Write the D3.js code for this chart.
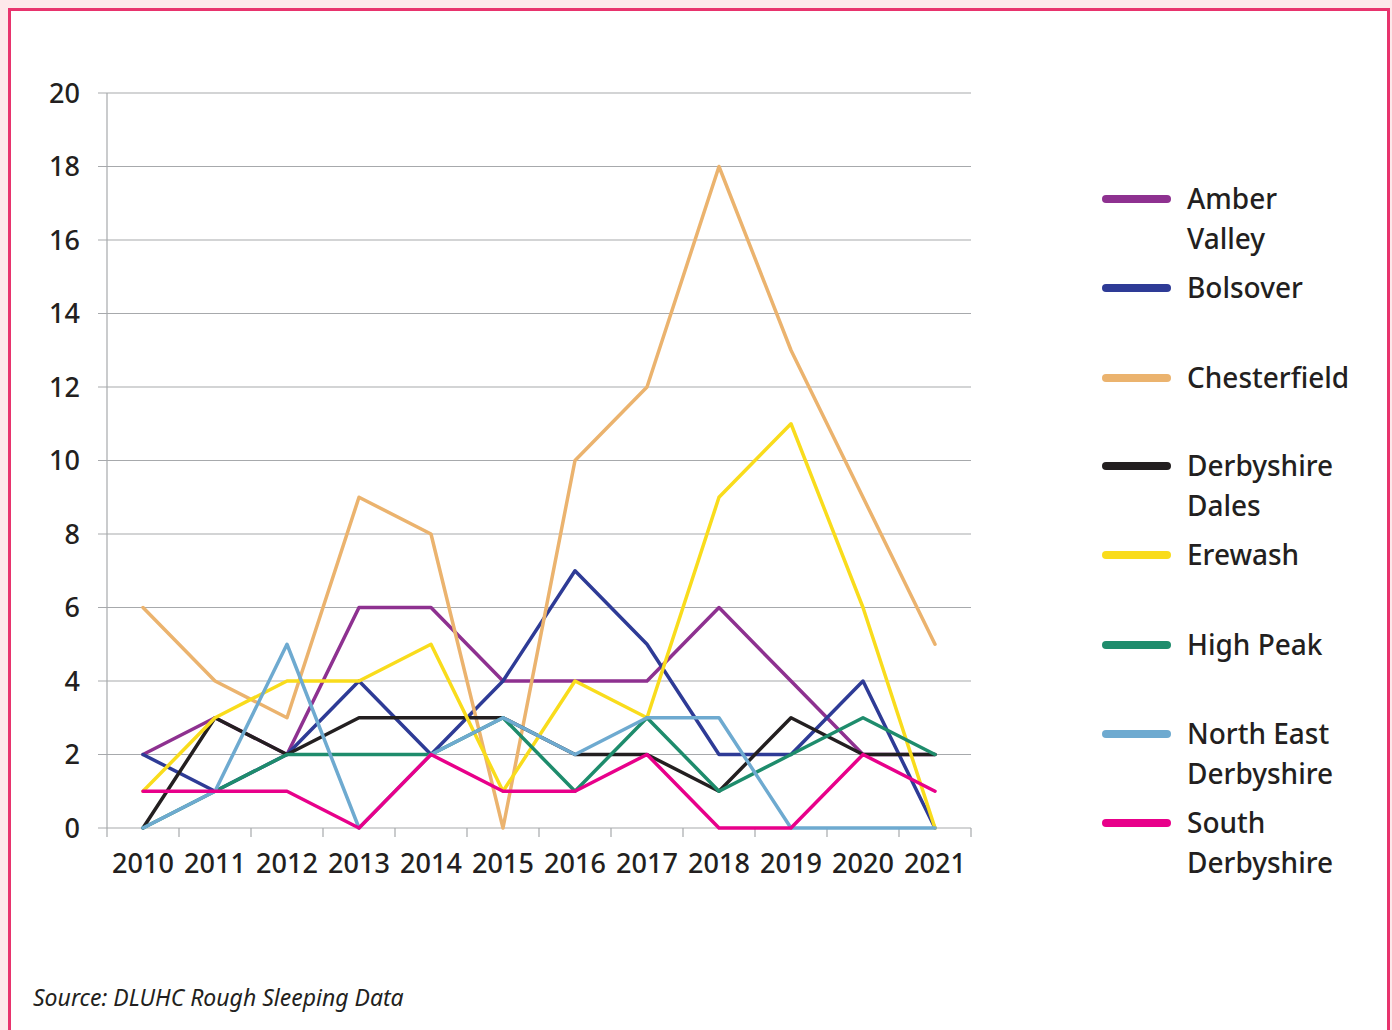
<!DOCTYPE html>
<html>
<head>
<meta charset="utf-8">
<script src="https://cdn.jsdelivr.net/npm/d3@7"></script>
<style>
html,body{margin:0;padding:0;background:#fde8ea;}
svg{display:block;}
</style>
</head>
<body>
<svg id="chart" width="1392" height="1030"></svg>
<script>
const years = ["2010","2011","2012","2013","2014","2015","2016","2017","2018","2019","2020","2021"];
const yTicks = [0,2,4,6,8,10,12,14,16,18,20];
const seriesNames = [["Amber","Valley"],["Bolsover"],["Chesterfield"],["Derbyshire","Dales"],["Erewash"],["High Peak"],["North East","Derbyshire"],["South","Derbyshire"]];
const seriesColors = ["#8e3190","#2e3b96","#ebb36e","#231f20","#f9dc1c","#1e8c6c","#6eaad0","#e8008a"];
const amberValley = [2,3,2,6,6,4,4,4,6,4,2,2];
const bolsover = [2,1,2,4,2,4,7,5,2,2,4,0];
const chesterfield = [6,4,3,9,8,0,10,12,18,13,9,5];
const derbyshireDales = [0,3,2,3,3,3,2,2,1,3,2,2];
const erewash = [1,3,4,4,5,1,4,3,9,11,6,0];
const highPeak = [0,1,2,2,2,3,1,3,1,2,3,2];
const northEastDerbyshire = [0,1,5,0,2,3,2,3,3,0,0,0];
const southDerbyshire = [1,1,1,0,2,1,1,2,0,0,2,1];
const seriesValues = [amberValley,bolsover,chesterfield,derbyshireDales,erewash,highPeak,northEastDerbyshire,southDerbyshire];

const svg = d3.select("#chart");
const font = "'Noto Sans','Open Sans',sans-serif";
const textColor = "#231f20";

// panel with pink border
svg.append("rect").attr("x",9.5).attr("y",9.5).attr("width",1379).attr("height",1030)
  .attr("fill","#fff").attr("stroke","#e8336d").attr("stroke-width",3);

const pLeft = 107, pRight = 971, pTop = 93, pBottom = 828;
const x = d3.scaleBand().domain(years).range([pLeft,pRight]).paddingInner(0).paddingOuter(0);
const y = d3.scaleLinear().domain([0,20]).range([pBottom,pTop]);

// gridlines
svg.append("g").selectAll("line").data(yTicks).join("line")
  .attr("x1",pLeft-9).attr("x2",pRight)
  .attr("y1",d=>y(d)).attr("y2",d=>y(d))
  .attr("stroke","#a7a9ac").attr("stroke-width",1.2);

// y axis line
svg.append("line").attr("x1",pLeft).attr("x2",pLeft).attr("y1",pTop).attr("y2",pBottom)
  .attr("stroke","#a7a9ac").attr("stroke-width",1.2);

// x tick marks at category boundaries
const bounds = years.map(d=>x(d)).concat([pRight]);
svg.append("g").selectAll("line").data(bounds).join("line")
  .attr("x1",d=>d).attr("x2",d=>d).attr("y1",pBottom).attr("y2",pBottom+9)
  .attr("stroke","#a7a9ac").attr("stroke-width",1.2);

// y labels
svg.append("g").selectAll("text").data(yTicks).join("text")
  .attr("x",80).attr("y",d=>y(d)).attr("dy","0.36em")
  .attr("text-anchor","end").attr("font-family",font).attr("font-size",27).attr("font-weight",500)
  .attr("fill",textColor).text(d=>d);

// x labels
svg.append("g").selectAll("text").data(years).join("text")
  .attr("x",d=>x(d)+x.bandwidth()/2).attr("y",873)
  .attr("text-anchor","middle").attr("font-family",font).attr("font-size",27).attr("font-weight",500)
  .attr("fill",textColor).text(d=>d);

// lines
const line = d3.line().x((d,i)=>x(years[i])+x.bandwidth()/2).y(d=>y(d));
svg.append("g").selectAll("path").data(seriesValues).join("path")
  .attr("d",d=>line(d)).attr("fill","none")
  .attr("stroke",(d,i)=>seriesColors[i]).attr("stroke-width",3.5)
  .attr("stroke-linejoin","round").attr("stroke-linecap","round");

// legend
const legendY = [199,288,378,466,555,645,734,823];
const lg = svg.append("g").selectAll("g").data(seriesNames).join("g")
  .attr("transform",(d,i)=>`translate(0,${legendY[i]})`);
lg.append("line").attr("x1",1106).attr("x2",1167).attr("y1",0).attr("y2",0)
  .attr("stroke",(d,i)=>seriesColors[i]).attr("stroke-width",8).attr("stroke-linecap","round");
lg.each(function(d){
  const t = d3.select(this).append("text").attr("x",1187).attr("y",0)
    .attr("font-family",font).attr("font-size",28).attr("font-weight",500).attr("fill",textColor);
  d.forEach((s,j)=>{
    t.append("tspan").attr("x",1187).attr("y",j*40).attr("dy","0.36em").text(s);
  });
});

// source
svg.append("text").attr("x",33).attr("y",1006).attr("font-family",font)
  .attr("font-style","italic").attr("font-size",23).attr("fill",textColor)
  .text("Source: DLUHC Rough Sleeping Data");
</script>
</body>
</html>
